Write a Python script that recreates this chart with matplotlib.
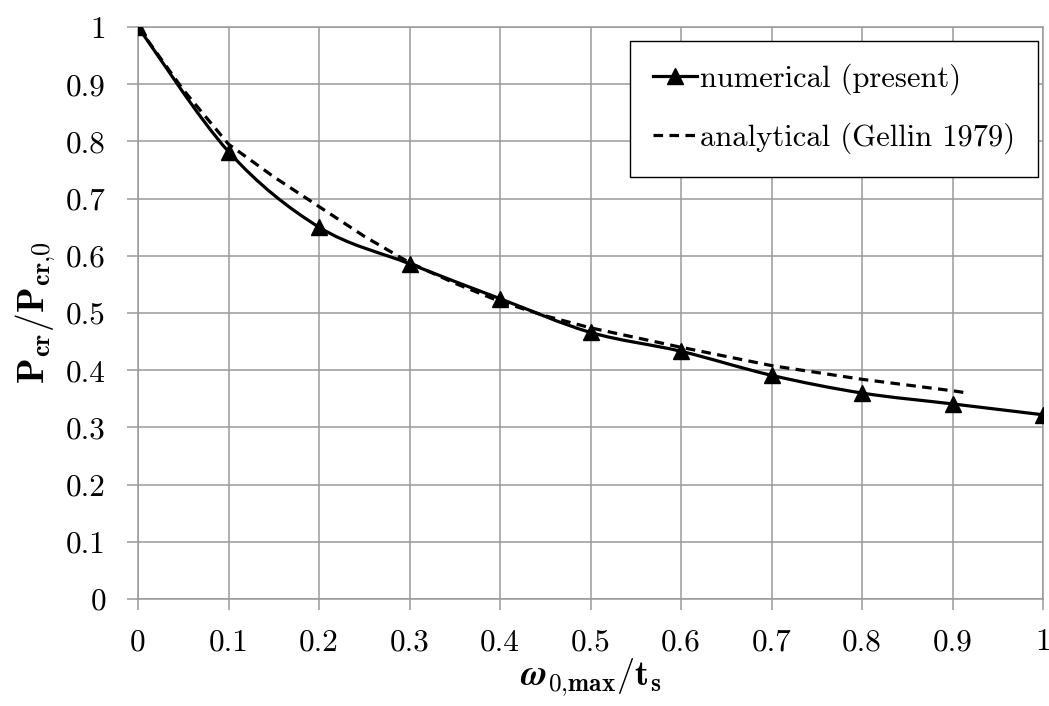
import numpy as np
import matplotlib
matplotlib.use('Agg')
import matplotlib.pyplot as plt
from matplotlib.path import Path
from matplotlib.patches import PathPatch
from matplotlib.lines import Line2D

plt.rcParams['font.family'] = ['cmr10', 'DejaVu Serif']
plt.rcParams['mathtext.fontset'] = 'cm'
plt.rcParams['axes.formatter.use_mathtext'] = True

# numerical (present)
x_num = [0, 0.1, 0.2, 0.3, 0.4, 0.5, 0.6, 0.7, 0.8, 0.9, 1.0]
y_num = [1.0, 0.782, 0.650, 0.586, 0.525, 0.466, 0.433, 0.391, 0.360, 0.341, 0.322]

# analytical (Gellin 1979)
x_ana = [0, 0.05, 0.1, 0.15, 0.2, 0.25, 0.3, 0.35, 0.4, 0.45, 0.5, 0.6, 0.7, 0.8, 0.9, 0.917]
y_ana = [1.0, 0.89, 0.795, 0.738, 0.686, 0.634, 0.588, 0.552, 0.520, 0.495, 0.474, 0.440, 0.408, 0.384, 0.364, 0.360]

xticks = [0, 0.1, 0.2, 0.3, 0.4, 0.5, 0.6, 0.7, 0.8, 0.9, 1]
xtick_labels = ['0', '0.1', '0.2', '0.3', '0.4', '0.5', '0.6', '0.7', '0.8', '0.9', '1']
yticks = [0, 0.1, 0.2, 0.3, 0.4, 0.5, 0.6, 0.7, 0.8, 0.9, 1]
ytick_labels = ['0', '0.1', '0.2', '0.3', '0.4', '0.5', '0.6', '0.7', '0.8', '0.9', '1']


def smooth_path(xs, ys):
    # excel-like smoothed line: catmull-rom segments as cubic beziers
    p = np.column_stack([xs, ys]).astype(float)
    n = len(p)
    verts = [p[0]]
    codes = [Path.MOVETO]
    for i in range(n - 1):
        p0 = p[i - 1] if i > 0 else p[i]
        p3 = p[i + 2] if i + 2 < n else p[i + 1]
        c1 = p[i] + (p[i + 1] - p0) / 6
        c2 = p[i + 1] - (p3 - p[i]) / 6
        verts += [c1, c2, p[i + 1]]
        codes += [Path.CURVE4] * 3
    return Path(verts, codes)


fig = plt.figure(figsize=(10.49, 7.06), dpi=100)
ax = fig.add_axes([0.1316, 0.1516, 0.8627, 0.8102])

grid_c = '#9a9a9a'
ax.add_patch(PathPatch(smooth_path(x_num, y_num), fill=False, edgecolor='black',
                       lw=2.3, zorder=3, capstyle='round'))
ax.plot(x_num, y_num, linestyle='none', marker='^', color='black', markersize=11, zorder=4)
ax.plot(x_ana, y_ana, color='black', lw=2.3, linestyle=(0, (3.0, 2.0)), zorder=3)

ax.set_xlim(0, 1)
ax.set_ylim(0, 1)
ax.set_xticks(xticks)
ax.set_xticklabels(xtick_labels)
ax.set_yticks(yticks)
ax.set_yticklabels(ytick_labels)
ax.grid(True, color=grid_c, lw=1.1)
ax.set_axisbelow(True)
for s in ax.spines.values():
    s.set_color(grid_c)
    s.set_linewidth(1.1)
ax.tick_params(direction='out', length=8, width=1.1, color=grid_c, labelsize=22.5)
ax.tick_params(axis='x', pad=13)
ax.tick_params(axis='y', pad=15)

ax.set_xlabel(r'$\boldsymbol{\omega}_{\mathbf{0{,}max}}/\mathbf{t}_{\mathbf{s}}$', fontsize=26, labelpad=0)
ax.set_ylabel(r'$\mathbf{P}_{\mathbf{cr}}/\mathbf{P}_{\mathbf{cr{,}0}}$', fontsize=27, labelpad=6)

h1 = Line2D([], [], color='black', lw=2.3, marker='^', markersize=11)
h2 = Line2D([], [], color='black', lw=2.3, linestyle=(0, (3.0, 2.0)))
leg = ax.legend([h1, h2], ['numerical (present)', 'analytical (Gellin 1979)'],
                loc='upper right', bbox_to_anchor=(0.9945, 0.9755), fontsize=22,
                frameon=True, fancybox=False, edgecolor='black', framealpha=1,
                handlelength=1.45, handletextpad=0.1, labelspacing=0.9,
                borderpad=0.75, borderaxespad=0)
leg.get_frame().set_linewidth(1.0)

fig.savefig('out.png', dpi=100)
